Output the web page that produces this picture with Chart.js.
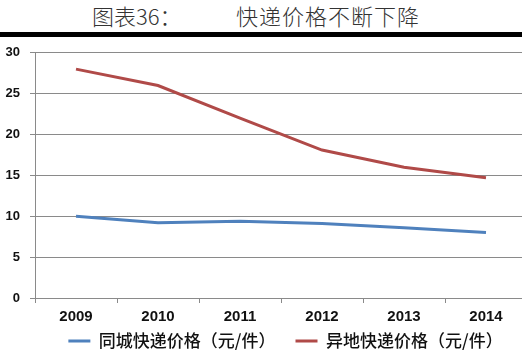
<!DOCTYPE html>
<html>
<head>
<meta charset="utf-8">
<script src="https://cdn.jsdelivr.net/npm/chart.js@4"></script>
<style>
  body { margin: 0; background: #fff; width: 522px; height: 360px; overflow: hidden; position: relative; }
  .title { position: absolute; top: -1px; font-family: "Noto Sans CJK SC", sans-serif; font-size: 22px; color: #333; font-weight: 300; }
  #bar { position: absolute; left: 0; top: 32px; width: 522px; height: 5px; background: #000; }
  #wrap { position: absolute; left: 0; top: 35px; width: 560px; height: 340px; }
</style>
</head>
<body>
<div class="title" style="left:92px">图表36：</div>
<div class="title" style="left:236px; letter-spacing:1px">快递价格不断下降</div>
<div id="bar"></div>
<div id="wrap"><canvas id="myChart"></canvas></div>
<script>
// categories
const years = ["2009", "2010", "2011", "2012", "2013", "2014"];

// series
const sameCityPrice = [10.0, 9.2, 9.4, 9.1, 8.6, 8.0];
const crossCityPrice = [28.0, 26.0, 22.0, 18.1, 16.0, 14.7];

const seriesNames = ["同城快递价格（元/件）", "异地快递价格（元/件）"];
const yTicks = [0, 5, 10, 15, 20, 25, 30];

const gridColor = "#8a8a8a";

const chartScalesX = () => {
  return {
    type: "category",
    offset: true,
    afterFit: (scale) => {
      scale.height = 30;
    },
    border: { display: true, color: gridColor, width: 1 },
    grid: {
      offset: true,
      drawOnChartArea: false,
      drawTicks: true,
      tickLength: 5,
      color: gridColor,
    },
    ticks: {
      color: "#111",
      padding: 5,
      font: { family: "Liberation Sans", size: 15, weight: "bold" },
    },
  };
};

const chartScalesY = () => {
  return {
    min: yTicks[0],
    max: yTicks[yTicks.length - 1],
    afterFit: (scale) => {
      scale.width = 35;
    },
    border: { display: true, color: gridColor, width: 1 },
    grid: { color: gridColor, tickLength: 5, lineWidth: 1 },
    ticks: {
      stepSize: 5,
      color: "#111",
      padding: 10,
      font: { family: "Liberation Sans", size: 13, weight: "bold" },
    },
  };
};

// the original legend sits a bit right of centre and close under the years
const legendCenterY = 306;
const legendShift = {
  id: "legendShift",
  afterUpdate: (chart) => {
    const lg = chart.legend;
    const pad = lg.options.labels.padding;
    const h = lg.bottom - lg.top;
    lg.left += 22;
    lg.right += 22;
    lg.top = legendCenterY - pad - 8.5;
    lg.bottom = lg.top + h;
  },
};

const myChart = new Chart(document.getElementById("myChart"), {
  type: "line",
  data: {
    labels: years,
    datasets: [
      {
        label: seriesNames[0],
        data: sameCityPrice,
        borderColor: "#4f81bd",
        backgroundColor: "#4f81bd",
        borderWidth: 3,
        pointRadius: 0,
        tension: 0,
      },
      {
        label: seriesNames[1],
        data: crossCityPrice,
        borderColor: "#b04a48",
        backgroundColor: "#b04a48",
        borderWidth: 3,
        pointRadius: 0,
        tension: 0,
      },
    ],
  },
  plugins: [legendShift],
  options: {
    responsive: true,
    maintainAspectRatio: false,
    animation: false,
    layout: { padding: { top: 4, right: 33, left: 0, bottom: 0 } },
    scales: {
      x: chartScalesX(),
      y: chartScalesY(),
    },
    plugins: {
      tooltip: { enabled: false },
      legend: {
        display: true,
        position: "bottom",
        labels: {
          usePointStyle: true,
          pointStyle: "line",
          pointStyleWidth: 22,
          padding: 20,
          color: "#111",
          font: { family: "Noto Sans CJK SC", size: 17, weight: 500 },
        },
      },
    },
  },
});
</script>
</body>
</html>
